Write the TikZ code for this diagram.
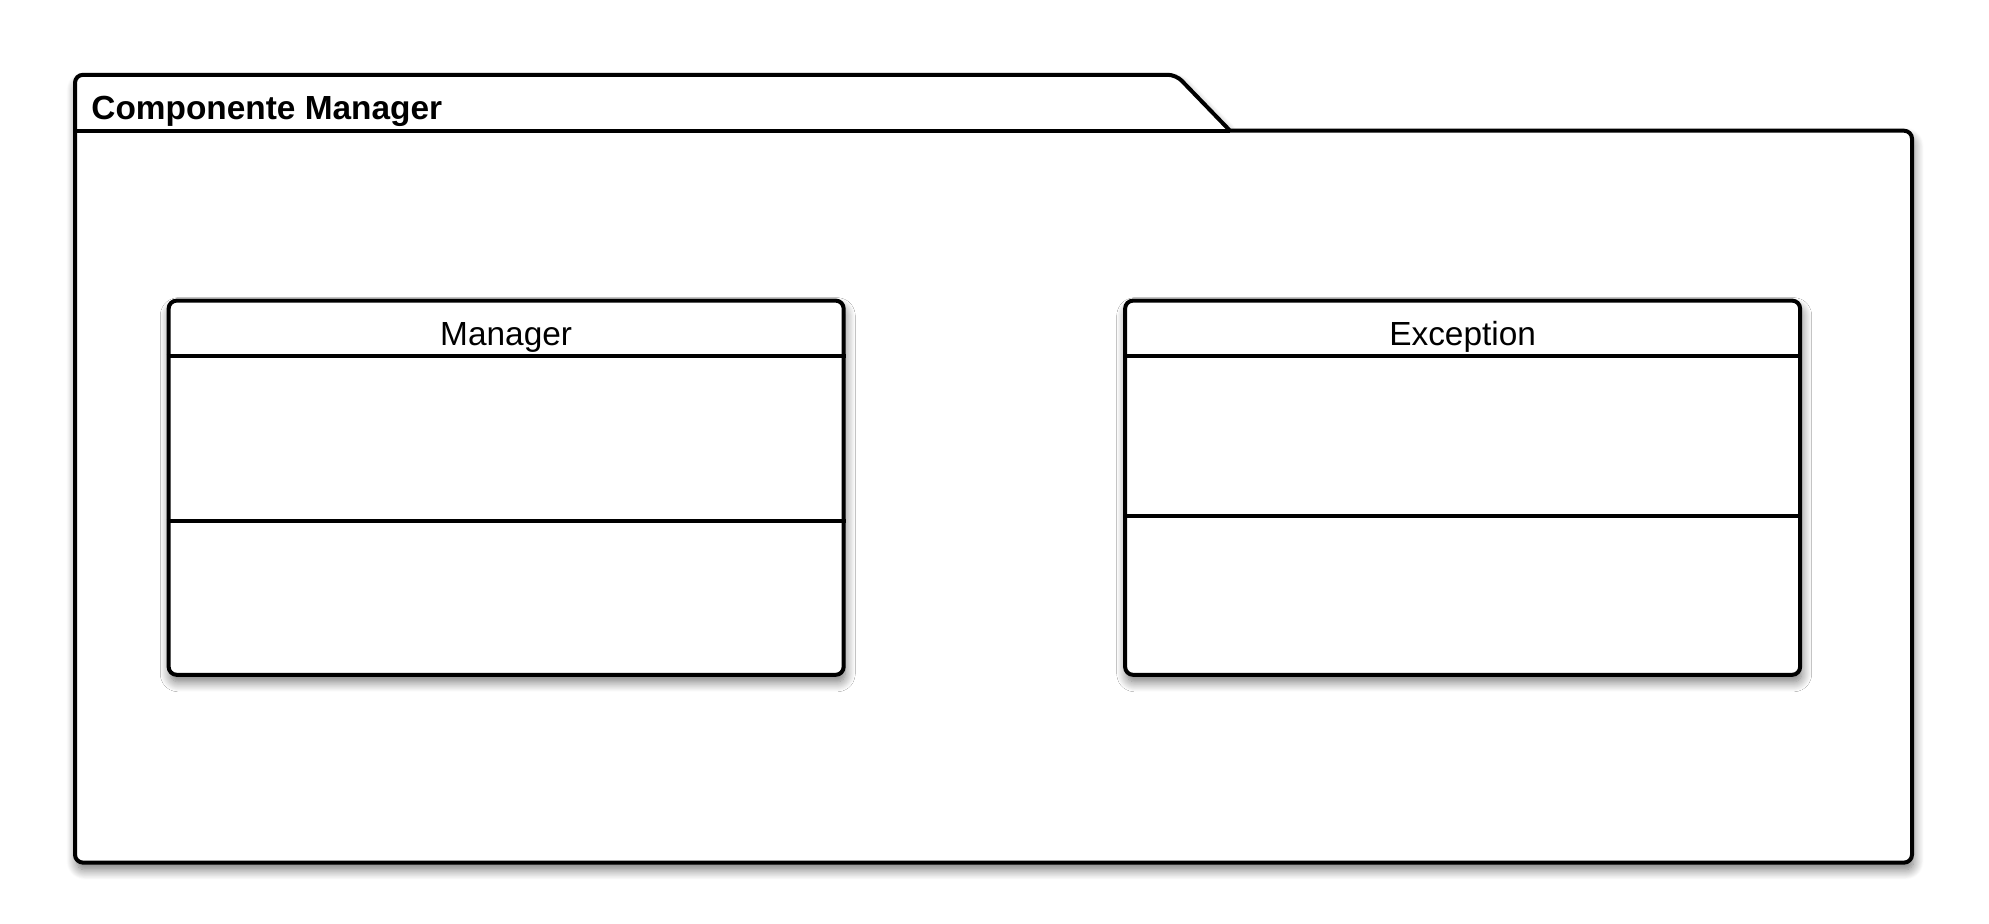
\documentclass[tikz,border=0pt]{standalone}
\usepackage{fontspec}
\setmainfont{Liberation Sans}
\usetikzlibrary{shadows.blur}
\begin{document}
\begin{tikzpicture}[x=0.5pt,y=-0.5pt,
  outline/.style={draw=black,line width=2pt,line join=round},
  softshadow/.style={blur shadow={shadow xshift=0.8pt,shadow yshift=-3.5pt,shadow blur radius=5pt,shadow blur steps=12,shadow opacity=55}},
  classbox/.style={outline,fill=white,rounded corners=4pt,softshadow,minimum width=337.5pt,minimum height=187.1pt,inner sep=0pt},
  classname/.style={anchor=base,font=\fontsize{16.7}{20}\selectfont,inner sep=0pt},
  pkgtitle/.style={anchor=base west,font=\fontsize{16.7}{20}\selectfont\bfseries,inner sep=0pt}]
\useasboundingbox (0,0) rectangle (1989,923);
% package
\draw[outline,fill=white,rounded corners=4pt,softshadow]
  (75,862.6) -- (75,74.8) -- (1176,74.8) [sharp corners] -- (1230,130.7) [rounded corners=4pt] -- (1912,130.7) -- (1912,862.6) -- cycle;
\coordinate (pl) at (75,130.7);
\coordinate (pr) at (1230,130.7);
\draw[outline] (pl) -- (pr);
\node[pkgtitle] (title) at (91,119.3) {Componente Manager};
% Manager class
\node[classbox] (mgr) at (506.15,487.7) {};
\draw[outline] (mgr.west |- 0,356.4) -- (mgr.east |- 0,356.4);
\draw[outline] (mgr.west |- 0,521.4) -- (mgr.east |- 0,521.4);
\node[classname] (mgrname) at (506.15,345) {Manager};
% Exception class
\node[classbox] (exc) at (1462.6,487.7) {};
\draw[outline] (exc.west |- 0,356.4) -- (exc.east |- 0,356.4);
\draw[outline] (exc.west |- 0,516.3) -- (exc.east |- 0,516.3);
\node[classname] (excname) at (1462.6,345) {Exception};
\end{tikzpicture}
\end{document}
